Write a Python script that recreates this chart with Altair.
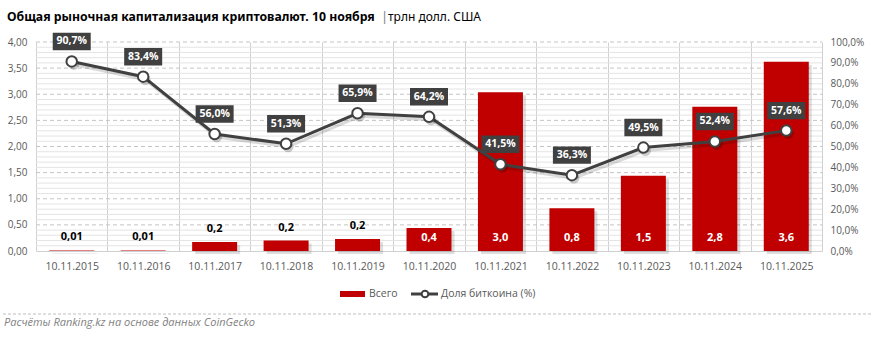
import altair as alt
import pandas as pd

# ---- data ----
dates = ["10.11.2015", "10.11.2016", "10.11.2017", "10.11.2018", "10.11.2019",
         "10.11.2020", "10.11.2021", "10.11.2022", "10.11.2023", "10.11.2024", "10.11.2025"]
total_cap = [0.01, 0.01, 0.17, 0.20, 0.23, 0.44, 3.04, 0.82, 1.44, 2.76, 3.62]
total_labels = ["0,01", "0,01", "0,2", "0,2", "0,2", "0,4", "3,0", "0,8", "1,5", "2,8", "3,6"]
btc_share = [90.7, 83.4, 56.0, 51.3, 65.9, 64.2, 41.5, 36.3, 49.5, 52.4, 57.6]
btc_labels = ["90,7%", "83,4%", "56,0%", "51,3%", "65,9%", "64,2%", "41,5%", "36,3%", "49,5%", "52,4%", "57,6%"]

title_main = "Общая рыночная капитализация криптовалют. 10 ноября"
title_unit = "трлн долл. США"
legend_bar = "Всего"
legend_line = "Доля биткоина (%)"
footer = "Расчёты Ranking.kz на основе данных CoinGecko"

left_major = [0.5, 1.0, 1.5, 2.0, 2.5, 3.0, 3.5, 4.0]
left_minor = [round(i * 0.1, 1) for i in range(41) if i % 5 != 0]

df = pd.DataFrame({
    "date": dates,
    "total": total_cap,
    "total_label": total_labels,
    "inside": [v >= 0.4 for v in total_cap],
    "btc": btc_share,
    "btc_label": btc_labels,
})
minor_df = pd.DataFrame({"total": left_minor})
major_df = pd.DataFrame({"total": left_major})

W, H = 786, 209
FONT = "Open Sans"
RED = "#C00000"
DARK = "#404040"
AXC = "#595959"

x_enc = alt.X(
    "date:N", sort=dates, title=None,
    scale=alt.Scale(paddingInner=0, paddingOuter=0),
    axis=alt.Axis(labelAngle=0, tickBand="extent", grid=True, gridColor="#d0d0d0",
                  gridOpacity=1, gridWidth=1, domainColor="#d0d0d0", ticks=False,
                  labelPadding=10, labelFont=FONT, labelFontSize=10.5, labelColor=AXC),
)

y_scale_left = alt.Scale(domain=[0, 4], nice=False)
y_axis_left = alt.Axis(
    orient="left", tickCount=8, ticks=False, domain=False, grid=False,
    labelOverlap=False,
    labelExpr="replace(format(datum.value, '.2f'), '.', ',')",
    labelFont=FONT, labelFontSize=10, labelColor=AXC, labelPadding=9,
)
y_left = alt.Y("total:Q", title=None, scale=y_scale_left, axis=y_axis_left)

y_right = alt.Y(
    "btc:Q", title=None,
    scale=alt.Scale(domain=[0, 100], nice=False),
    axis=alt.Axis(
        orient="right", tickCount=10, ticks=False, domain=False, grid=False,
        labelOverlap=False,
        labelExpr="replace(format(datum.value, '.1f'), '.', ',') + '%'",
        labelFont=FONT, labelFontSize=10, labelColor=AXC, labelPadding=8,
    ),
)

base = alt.Chart(df).encode(x=x_enc)

minor_grid = alt.Chart(minor_df).mark_rule(color="#e4e4e4", strokeWidth=1).encode(
    y=y_left, x=alt.value(0), x2=alt.value(W))
major_grid = alt.Chart(major_df).mark_rule(color="#c4c4c4", strokeWidth=1,
                                           strokeDash=[4, 3]).encode(
    y=y_left, x=alt.value(0), x2=alt.value(W))

bar_shadow = base.mark_bar(size=45, color="#000000", opacity=0.13,
                           xOffset=3, yOffset=3, y2Offset=0).encode(y=y_left)
bars = base.mark_bar(size=45, color=RED).encode(y=y_left)
lab_above = base.transform_filter("!datum.inside").mark_text(
    font=FONT, fontWeight="bold", fontSize=11, color="#000000", baseline="middle", dy=-13
).encode(y=y_left, text="total_label:N")
lab_inside = base.transform_filter("datum.inside").mark_text(
    font=FONT, fontWeight="bold", fontSize=11, color="#FFFFFF", baseline="middle", dy=-13
).encode(y=alt.datum(0), text="total_label:N")

left = alt.layer(minor_grid, major_grid, bar_shadow, bars, lab_above, lab_inside)

line_shadow = base.mark_line(color="#000000", opacity=0.15, strokeWidth=3,
                             xOffset=2, yOffset=3).encode(y=y_right)
line = base.mark_line(color=DARK, strokeWidth=3).encode(y=y_right)
pt_shadow = base.mark_point(filled=True, color="#000000", opacity=0.2, size=120,
                            xOffset=2, yOffset=3).encode(y=y_right)
points = base.mark_point(filled=True, fill="#FFFFFF", stroke=DARK, strokeWidth=2,
                         size=110, opacity=1).encode(y=y_right)
boxes = base.mark_point(filled=True, color=DARK, opacity=1,
                        shape="M-1,-0.46H1V0.46H-1Z", size=1444, yOffset=-20
                        ).encode(y=y_right)
pct = base.mark_text(font=FONT, fontWeight="bold", fontSize=10.5, color="#FFFFFF",
                     baseline="middle", dy=-20).encode(y=y_right, text="btc_label:N")

right = alt.layer(line_shadow, line, pt_shadow, points, boxes, pct)

one = pd.DataFrame({"k": [0]})

t1 = alt.Chart(one).mark_text(text=title_main, align="left", baseline="middle",
                              font="Noto Sans", fontWeight="bold", fontSize=12.25,
                              color="#000000").encode(x=alt.value(-29), y=alt.value(-25))
t2 = alt.Chart(one).mark_text(text="|", align="left", baseline="middle",
                              font="Noto Sans", fontSize=13, color="#7f7f7f"
                              ).encode(x=alt.value(345), y=alt.value(-25))
t3 = alt.Chart(one).mark_text(text=title_unit, align="left", baseline="middle",
                              font="Noto Sans", fontSize=12, color="#000000"
                              ).encode(x=alt.value(352), y=alt.value(-25))

leg_rect = alt.Chart(one).mark_rect(color=RED).encode(
    x=alt.value(304), x2=alt.value(329), y=alt.value(249), y2=alt.value(255))
leg_t1 = alt.Chart(one).mark_text(text=legend_bar, align="left", baseline="middle",
                                  font=FONT, fontSize=10.5, color=AXC
                                  ).encode(x=alt.value(333), y=alt.value(252))
leg_rule = alt.Chart(one).mark_rule(color=DARK, strokeWidth=3).encode(
    x=alt.value(375), x2=alt.value(402), y=alt.value(252))
leg_pt = alt.Chart(one).mark_point(filled=True, fill="#FFFFFF", stroke=DARK,
                                   strokeWidth=2, size=45, opacity=1).encode(
    x=alt.value(389), y=alt.value(252))
leg_t2 = alt.Chart(one).mark_text(text=legend_line, align="left", baseline="middle",
                                  font=FONT, fontSize=10.5, color=AXC
                                  ).encode(x=alt.value(405), y=alt.value(252))

sep = alt.Chart(one).mark_rule(color="#bfbfbf", strokeDash=[3, 2], strokeWidth=1).encode(
    x=alt.value(-33), x2=alt.value(835), y=alt.value(272))
foot = alt.Chart(one).mark_text(text=footer, align="left", baseline="middle",
                                font=FONT, fontStyle="italic", fontSize=11,
                                color="#7f7f7f").encode(x=alt.value(-32), y=alt.value(281))

chart = alt.layer(
    left, right, t1, t2, t3, leg_rect, leg_t1, leg_rule, leg_pt, leg_t2, sep, foot
).resolve_scale(y="independent").properties(
    width=W, height=H,
    autosize=alt.AutoSizeParams(type="none"),
    padding={"left": 36, "top": 42, "right": 50, "bottom": 87},
    background="#FFFFFF",
).configure_view(stroke=None)

chart.save("out.html", embed_options={"renderer": "svg", "actions": False})
